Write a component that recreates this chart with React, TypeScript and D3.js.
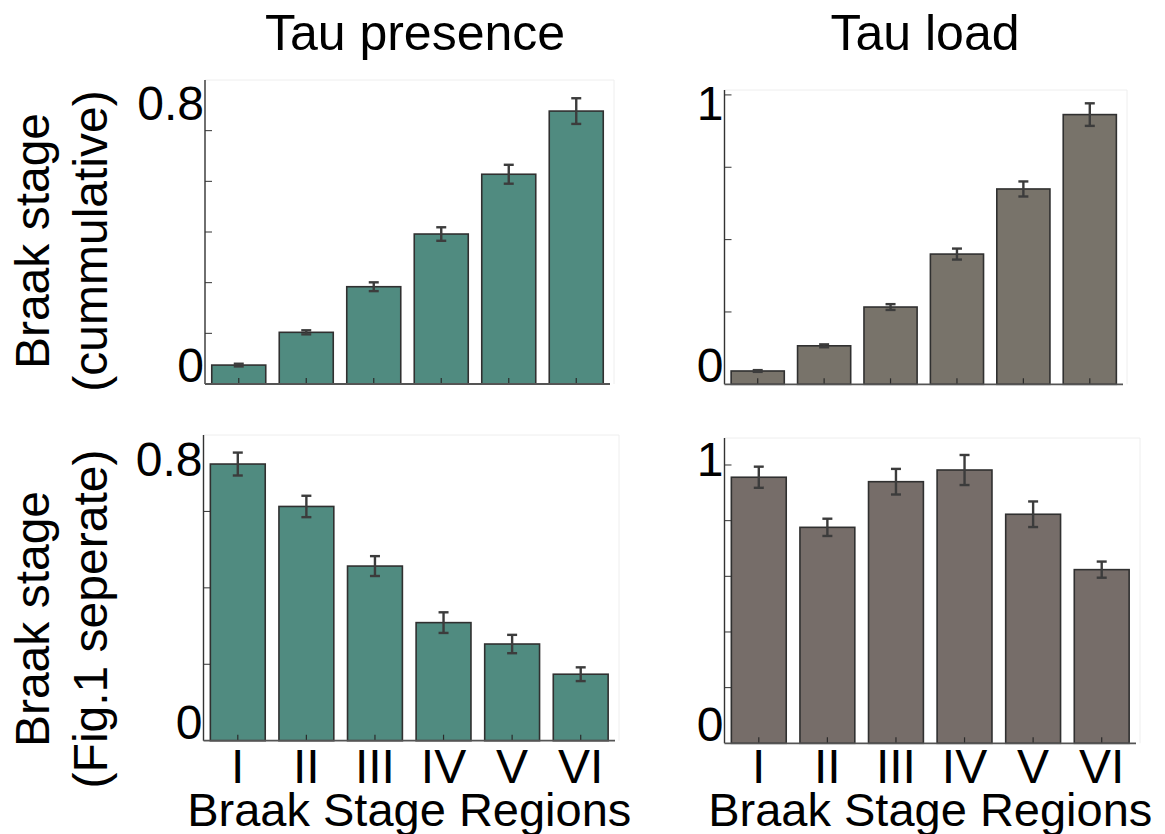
import * as d3 from 'd3';

const stages = ['I', 'II', 'III', 'IV', 'V', 'VI'];

// Braak stage (cumulative)
const presenceCumulative = [0.056, 0.153, 0.288, 0.444, 0.621, 0.808];
const presenceCumulativeErr = [0.004, 0.006, 0.013, 0.02, 0.028, 0.038];
const loadCumulative = [0.046, 0.133, 0.267, 0.45, 0.675, 0.932];
const loadCumulativeErr = [0.003, 0.005, 0.01, 0.019, 0.026, 0.039];

// Braak stage (Fig.1 seperate)
const presenceSeparate = [0.724, 0.613, 0.457, 0.309, 0.253, 0.174];
const presenceSeparateErr = [0.03, 0.028, 0.026, 0.027, 0.024, 0.018];
const loadSeparate = [0.956, 0.776, 0.94, 0.982, 0.823, 0.624];
const loadSeparateErr = [0.038, 0.031, 0.046, 0.054, 0.046, 0.029];

const ticksP1 = [0.15, 0.3, 0.45, 0.6, 0.75];
const ticksP2 = [0.25, 0.5, 0.75, 1];
const ticksP3 = [0.2, 0.4, 0.6];
const ticksP4 = [0.2, 0.4, 0.6, 0.8, 1];

const FONT = '"Liberation Sans", Arial, Helvetica, sans-serif';
const TEAL = '#508b80';
const GRAY_TOP = '#78736a';
const GRAY_BOTTOM = '#766d69';

type Panel = {
  values: number[];
  errors: number[];
  ticks: number[];
  yMax: number;
  topLabel: string;
  fill: string;
  x0: number; x1: number; y0: number; y1: number;
  labelBase: number; // baseline of top tick label
  xLabels: boolean;
};

const panels: Panel[] = [
  { values: presenceCumulative, errors: presenceCumulativeErr, ticks: ticksP1, yMax: 0.9, topLabel: '0.8', fill: TEAL,
    x0: 205, x1: 610, y0: 80, y1: 384, labelBase: 119.5, xLabels: false },
  { values: loadCumulative, errors: loadCumulativeErr, ticks: ticksP2, yMax: 1.017, topLabel: '1', fill: GRAY_TOP,
    x0: 724.5, x1: 1123, y0: 90, y1: 384.3, labelBase: 119.5, xLabels: false },
  { values: presenceSeparate, errors: presenceSeparateErr, ticks: ticksP3, yMax: 0.8, topLabel: '0.8', fill: TEAL,
    x0: 203.5, x1: 615, y0: 435, y1: 740.7, labelBase: 476, xLabels: true },
  { values: loadSeparate, errors: loadSeparateErr, ticks: ticksP4, yMax: 1.097, topLabel: '1', fill: GRAY_BOTTOM,
    x0: 724.5, x1: 1136, y0: 438, y1: 743.3, labelBase: 476, xLabels: true },
];

function BarPanel({ p }: { p: Panel }) {
  const x = d3.scaleBand<string>().domain(stages).range([p.x0, p.x1]).paddingInner(0.2).paddingOuter(0.1);
  const y = d3.scaleLinear().domain([0, p.yMax]).range([p.y1, p.y0]);
  const bw = x.bandwidth();
  const cap = 5;
  return (
    <g>
      {/* faint frame */}
      <path d={`M${p.x0},${p.y0}H${p.x1 + 4}V${p.y1}`} fill="none" stroke="#eeeeee" strokeWidth={1} />
      {p.values.map((v, i) => (
        <rect key={i} x={x(stages[i])} y={y(v)} width={bw} height={y(0) - y(v)}
          fill={p.fill} stroke="#303030" strokeWidth={1.6} />
      ))}
      {p.values.map((v, i) => {
        const cx = (x(stages[i]) as number) + bw / 2;
        const e = p.errors[i];
        return (
          <g key={'e' + i} stroke="#3c3c3c" strokeWidth={2.4}>
            <line x1={cx} x2={cx} y1={y(v + e)} y2={y(v - e)} />
            <line x1={cx - cap} x2={cx + cap} y1={y(v + e)} y2={y(v + e)} />
            <line x1={cx - cap} x2={cx + cap} y1={y(v - e)} y2={y(v - e)} />
          </g>
        );
      })}
      {/* x ticks pointing inward */}
      {stages.map((s) => {
        const cx = (x(s) as number) + bw / 2;
        return <line key={'xt' + s} x1={cx} x2={cx} y1={y(0)} y2={y(0) - 6} stroke="#2a2a2a" strokeWidth={1.2} />;
      })}
      {/* y ticks pointing inward */}
      {p.ticks.map((t) => (
        <line key={'yt' + t} x1={p.x0} x2={p.x0 + 7} y1={y(t)} y2={y(t)} stroke="#333" strokeWidth={1} />
      ))}
      {/* axes */}
      <line x1={p.x0} x2={p.x0} y1={p.y0} y2={p.y1} stroke="#333" strokeWidth={1.4} />
      <line x1={p.x0} x2={p.x1} y1={p.y1} y2={p.y1} stroke="#555" strokeWidth={1.8} />
      {/* y tick labels */}
      <text x={p.x0 - 1} y={p.labelBase} textAnchor="end" fontSize={48} fontFamily={FONT} fill="#000">{p.topLabel}</text>
      <text x={p.x0 - 1} y={y(0) - 2} textAnchor="end" fontSize={48} fontFamily={FONT} fill="#000">0</text>
      {p.xLabels && stages.map((s) => (
        <text key={'xl' + s} x={(x(s) as number) + bw / 2} y={783} textAnchor="middle" fontSize={48} fontFamily={FONT} fill="#000">{s}</text>
      ))}
      {p.xLabels && (
        <text x={(p.x0 + p.x1) / 2} y={826} textAnchor="middle" fontSize={47} fontFamily={FONT} fill="#000">Braak Stage Regions</text>
      )}
    </g>
  );
}

export default function App() {
  return (
    <svg width={1165} height={834} style={{ position: 'absolute', left: 0, top: 0, background: '#fff' }}>
      <rect width={1165} height={834} fill="#fff" />
      <text x={415} y={50} textAnchor="middle" fontSize={50} fontFamily={FONT}>Tau presence</text>
      <text x={925} y={50} textAnchor="middle" fontSize={50} fontFamily={FONT}>Tau load</text>

      <g fontSize={48} fontFamily={FONT} textAnchor="middle">
        <text transform="translate(49,241) rotate(-90)">Braak stage</text>
        <text transform="translate(107,241) rotate(-90)">(cummulative)</text>
        <text transform="translate(49,619) rotate(-90)">Braak stage</text>
        <text transform="translate(107,619) rotate(-90)">(Fig.1 seperate)</text>
      </g>

      {panels.map((p, i) => <BarPanel key={i} p={p} />)}
    </svg>
  );
}
